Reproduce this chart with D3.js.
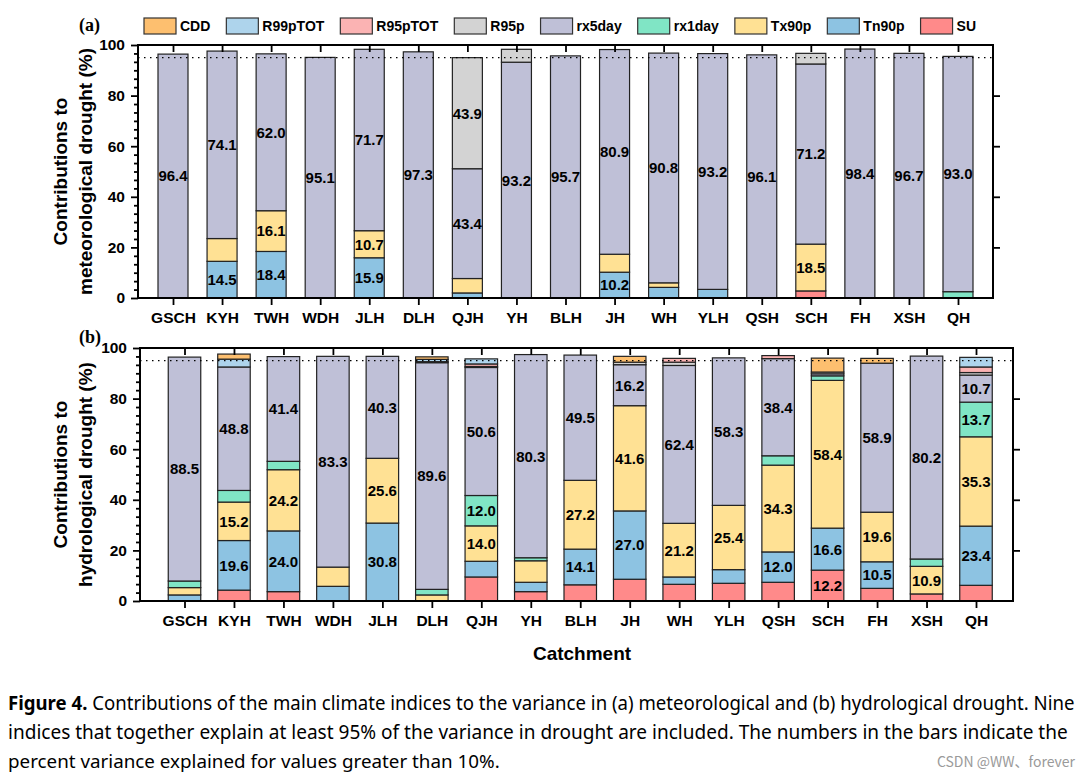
<!DOCTYPE html>
<html><head><meta charset="utf-8">
<script src="https://cdn.jsdelivr.net/npm/d3@7"></script>
<style>body{margin:0;background:#fff}svg{display:block}</style>
</head><body>
<svg id="chart" width="1085" height="776"></svg>
<script>
// ---------- DATA ----------
const catchments = ["GSCH","KYH","TWH","WDH","JLH","DLH","QJH","YH","BLH","JH","WH","YLH","QSH","SCH","FH","XSH","QH"];
const legendOrder = ["CDD","R99pTOT","R95pTOT","R95p","rx5day","rx1day","Tx90p","Tn90p","SU"];
const legendColors = ["#FDBF6F","#AED4EC","#FBB3B3","#D3D3D3","#BFC0D7","#80E5C5","#FFE194","#8DC3E2","#FF8A8A"];
const yTicks = [0,20,40,60,80,100];

// (a) meteorological drought
const metSU      = [0,0,0,0,0,0,0,0,0,0,0,0,0,2.8,0,0,0];
const metTn90p   = [0,14.5,18.4,0,15.9,0,2.0,0,0,10.2,4.2,3.4,0,0,0,0,0];
const metTx90p   = [0,9.0,16.1,0,10.7,0,5.7,0,0,7.1,1.8,0,0,18.5,0,0,0];
const metRx1day  = [0,0,0,0,0,0,0,0,0,0,0,0,0,0,0,0,2.5];
const metRx5day  = [96.4,74.1,62.0,95.1,71.7,97.3,43.4,93.2,95.7,80.9,90.8,93.2,96.1,71.2,98.4,96.7,93.0];
const metR95p    = [0,0,0,0,0,0,43.9,5.1,0,0,0,0,0,4.2,0,0,0];
const metR95pTOT = [0,0,0,0,0,0,0,0,0,0,0,0,0,0,0,0,0];
const metR99pTOT = [0,0,0,0,0,0,0,0,0,0,0,0,0,0,0,0,0];
const metCDD     = [0,0,0,0,0,0,0,0,0,0,0,0,0,0,0,0,0];

// (b) hydrological drought
const hydSU      = [0,4.3,3.7,0,0,0,9.5,3.7,6.4,8.6,6.6,7.0,7.4,12.2,5.0,2.8,6.2];
const hydTn90p   = [2.4,19.6,24.0,5.8,30.8,0,6.2,3.7,14.1,27.0,2.9,5.4,12.0,16.6,10.5,0,23.4];
const hydTx90p   = [2.9,15.2,24.2,7.6,25.6,2.4,14.0,8.5,27.2,41.6,21.2,25.4,34.3,58.4,19.6,10.9,35.3];
const hydRx1day  = [2.6,4.6,3.3,0,0,2.2,12.0,1.2,0,0,0,0,3.7,1.8,0,2.9,13.7];
const hydRx5day  = [88.5,48.8,41.4,83.3,40.3,89.6,50.6,80.3,49.5,16.2,62.4,58.3,38.4,0.8,58.9,80.2,10.7];
const hydR95p    = [0,0,0,0,0,0.4,0.4,0,0,1.0,1.3,0,0,0.7,0,0,1.0];
const hydR95pTOT = [0,0,0,0,0,0,1.0,0,0,0,1.5,0,1.2,0,0,0,2.2];
const hydR99pTOT = [0,3.1,0,0,0,0.9,2.0,0,0,0,0,0,0,0,0,0,3.8];
const hydCDD     = [0,2.0,0,0,0,1.0,0,0,0,2.3,0,0,0,5.5,1.9,0,0];

// ---------- BUILD TABLES ----------
function buildRows(s){
  return catchments.map((c,i)=>{
    const r={cat:c};
    legendOrder.forEach(k=>{ r[k]=s[k][i]; });
    return r;
  });
}
const metRows = buildRows({SU:metSU,Tn90p:metTn90p,Tx90p:metTx90p,rx1day:metRx1day,rx5day:metRx5day,R95p:metR95p,R95pTOT:metR95pTOT,R99pTOT:metR99pTOT,CDD:metCDD});
const hydRows = buildRows({SU:hydSU,Tn90p:hydTn90p,Tx90p:hydTx90p,rx1day:hydRx1day,rx5day:hydRx5day,R95p:hydR95p,R95pTOT:hydR95pTOT,R99pTOT:hydR99pTOT,CDD:hydCDD});

const color = d3.scaleOrdinal().domain(legendOrder).range(legendColors);
const stackKeys = legendOrder.slice().reverse();
const FONT = "'Liberation Sans', Arial, Helvetica, sans-serif";

const svg = d3.select("#chart");
svg.append("rect").attr("width",1085).attr("height",776).attr("fill","#fff");

function drawPanel(cfg){
  const g = svg.append("g");
  const x = d3.scalePoint().domain(catchments).range([cfg.c0,cfg.c1]);
  const y = d3.scaleLinear().domain([0,100]).range([cfg.y1,cfg.y0]);
  const series = d3.stack().keys(stackKeys)(cfg.rows);

  series.forEach(s=>{
    g.append("g").selectAll("rect").data(s.filter(d=>d[1]-d[0]>0)).join("rect")
      .attr("x",d=>x(d.data.cat)-cfg.bw/2)
      .attr("y",d=>y(d[1]))
      .attr("width",cfg.bw)
      .attr("height",d=>y(d[0])-y(d[1]))
      .attr("fill",color(s.key))
      .attr("stroke","#222").attr("stroke-width",1.2);
  });
  series.forEach(s=>{
    g.append("g").selectAll("text").data(s.filter(d=>d[1]-d[0]>10)).join("text")
      .attr("x",d=>x(d.data.cat))
      .attr("y",d=>y((d[0]+d[1])/2))
      .attr("dy","0.36em")
      .attr("text-anchor","middle")
      .attr("font-family",FONT).attr("font-weight","bold").attr("font-size",15)
      .attr("fill","#000")
      .text(d=>(d[1]-d[0]).toFixed(1));
  });
  g.append("line").attr("x1",cfg.x0).attr("x2",cfg.x1).attr("y1",y(95)).attr("y2",y(95))
    .attr("stroke","#000").attr("stroke-width",1.3).attr("stroke-dasharray","1.5,4.5");

  g.append("rect").attr("x",cfg.x0).attr("y",cfg.y0).attr("width",cfg.x1-cfg.x0).attr("height",cfg.y1-cfg.y0)
    .attr("fill","none").attr("stroke","#000").attr("stroke-width",2);

  const minor = d3.range(0,100.01,10/3).filter(v=>Math.abs(v/20-Math.round(v/20))>0.01);
  g.append("g").attr("transform",`translate(${cfg.x0},0)`)
    .call(d3.axisLeft(y).tickValues(yTicks).tickSize(7).tickPadding(6).tickFormat(d3.format("d")));
  g.append("g").attr("transform",`translate(${cfg.x0},0)`)
    .call(d3.axisLeft(y).tickValues(minor).tickSize(4).tickFormat(""));
  g.append("g").attr("transform",`translate(${cfg.x1},0)`)
    .call(d3.axisLeft(y).tickValues(yTicks.slice(1,-1)).tickSize(-7).tickFormat(""));
  g.append("g").attr("transform",`translate(0,${cfg.y1})`)
    .call(d3.axisBottom(x).tickSize(7).tickPadding(7));
  g.append("g").attr("transform",`translate(0,${cfg.y0})`)
    .call(d3.axisTop(x).tickSize(-7).tickFormat(""));
  g.selectAll(".domain").remove();
  g.selectAll(".tick line").attr("stroke","#000").attr("stroke-width",1.8);
  g.selectAll(".tick text").attr("font-family",FONT).attr("font-weight","bold").attr("font-size",15.5).attr("fill","#000");

  const cy = (cfg.y0+cfg.y1)/2;
  cfg.title.forEach((t,i)=>{
    g.append("text").attr("transform",`translate(${67+i*25},${cy}) rotate(-90)`)
      .attr("text-anchor","middle")
      .attr("font-family",FONT).attr("font-weight","bold").attr("font-size",19)
      .text(t);
  });
  g.append("text").attr("x",79).attr("y",cfg.tagY)
    .attr("font-family","'Liberation Serif','Times New Roman',serif").attr("font-weight","bold").attr("font-size",18)
    .text(cfg.tag);
}

drawPanel({rows:metRows,x0:138,x1:993,y0:45,y1:298,c0:173,c1:958,bw:30,
  title:["Contributions to","meteorological drought (%)"],tag:"(a)",tagY:31});
drawPanel({rows:hydRows,x0:140,x1:1013,y0:348,y1:601,c0:184.5,c1:976,bw:32.5,
  title:["Contributions to","hydrological drought (%)"],tag:"(b)",tagY:343});

svg.append("text").attr("x",582).attr("y",660).attr("text-anchor","middle")
  .attr("font-family",FONT).attr("font-weight","bold").attr("font-size",19).text("Catchment");

// legend
let lx = 144;
legendOrder.forEach((k,i)=>{
  svg.append("rect").attr("x",lx).attr("y",18).attr("width",32).attr("height",16)
    .attr("fill",legendColors[i]).attr("stroke","#333").attr("stroke-width",1.2);
  const t = svg.append("text").attr("x",lx+36).attr("y",31)
    .attr("font-family",FONT).attr("font-weight","bold").attr("font-size",14).text(k);
  lx += 36 + t.node().getComputedTextLength() + 16;
});

// caption: condensed by horizontal scaling to the reference widths
const CAP = "'Noto Sans', 'Open Sans', sans-serif";
function capLine(y, width, build){
  const g = svg.append("g");
  const t = g.append("text").attr("x",0).attr("y",0).attr("font-family",CAP).attr("font-size",19);
  build(t);
  const len = t.node().getComputedTextLength();
  g.attr("transform",`translate(8,${y}) scale(${width/len},1)`);
}
capLine(710,1067,t=>{
  t.append("tspan").attr("font-weight","bold").text("Figure 4.");
  t.append("tspan").text(" Contributions of the main climate indices to the variance in (a) meteorological and (b) hydrological drought. Nine");
});
capLine(739,1060,t=>t.text("indices that together explain at least 95% of the variance in drought are included. The numbers in the bars indicate the"));
capLine(768,492,t=>t.text("percent variance explained for values greater than 10%."));
svg.append("text").attr("x",1075).attr("y",767).attr("text-anchor","end")
  .attr("font-family","'Noto Sans CJK SC','Noto Sans',sans-serif").attr("font-size",14).attr("fill","#9a9a9a")
  .text("CSDN @WW、forever");
</script>
</body></html>
